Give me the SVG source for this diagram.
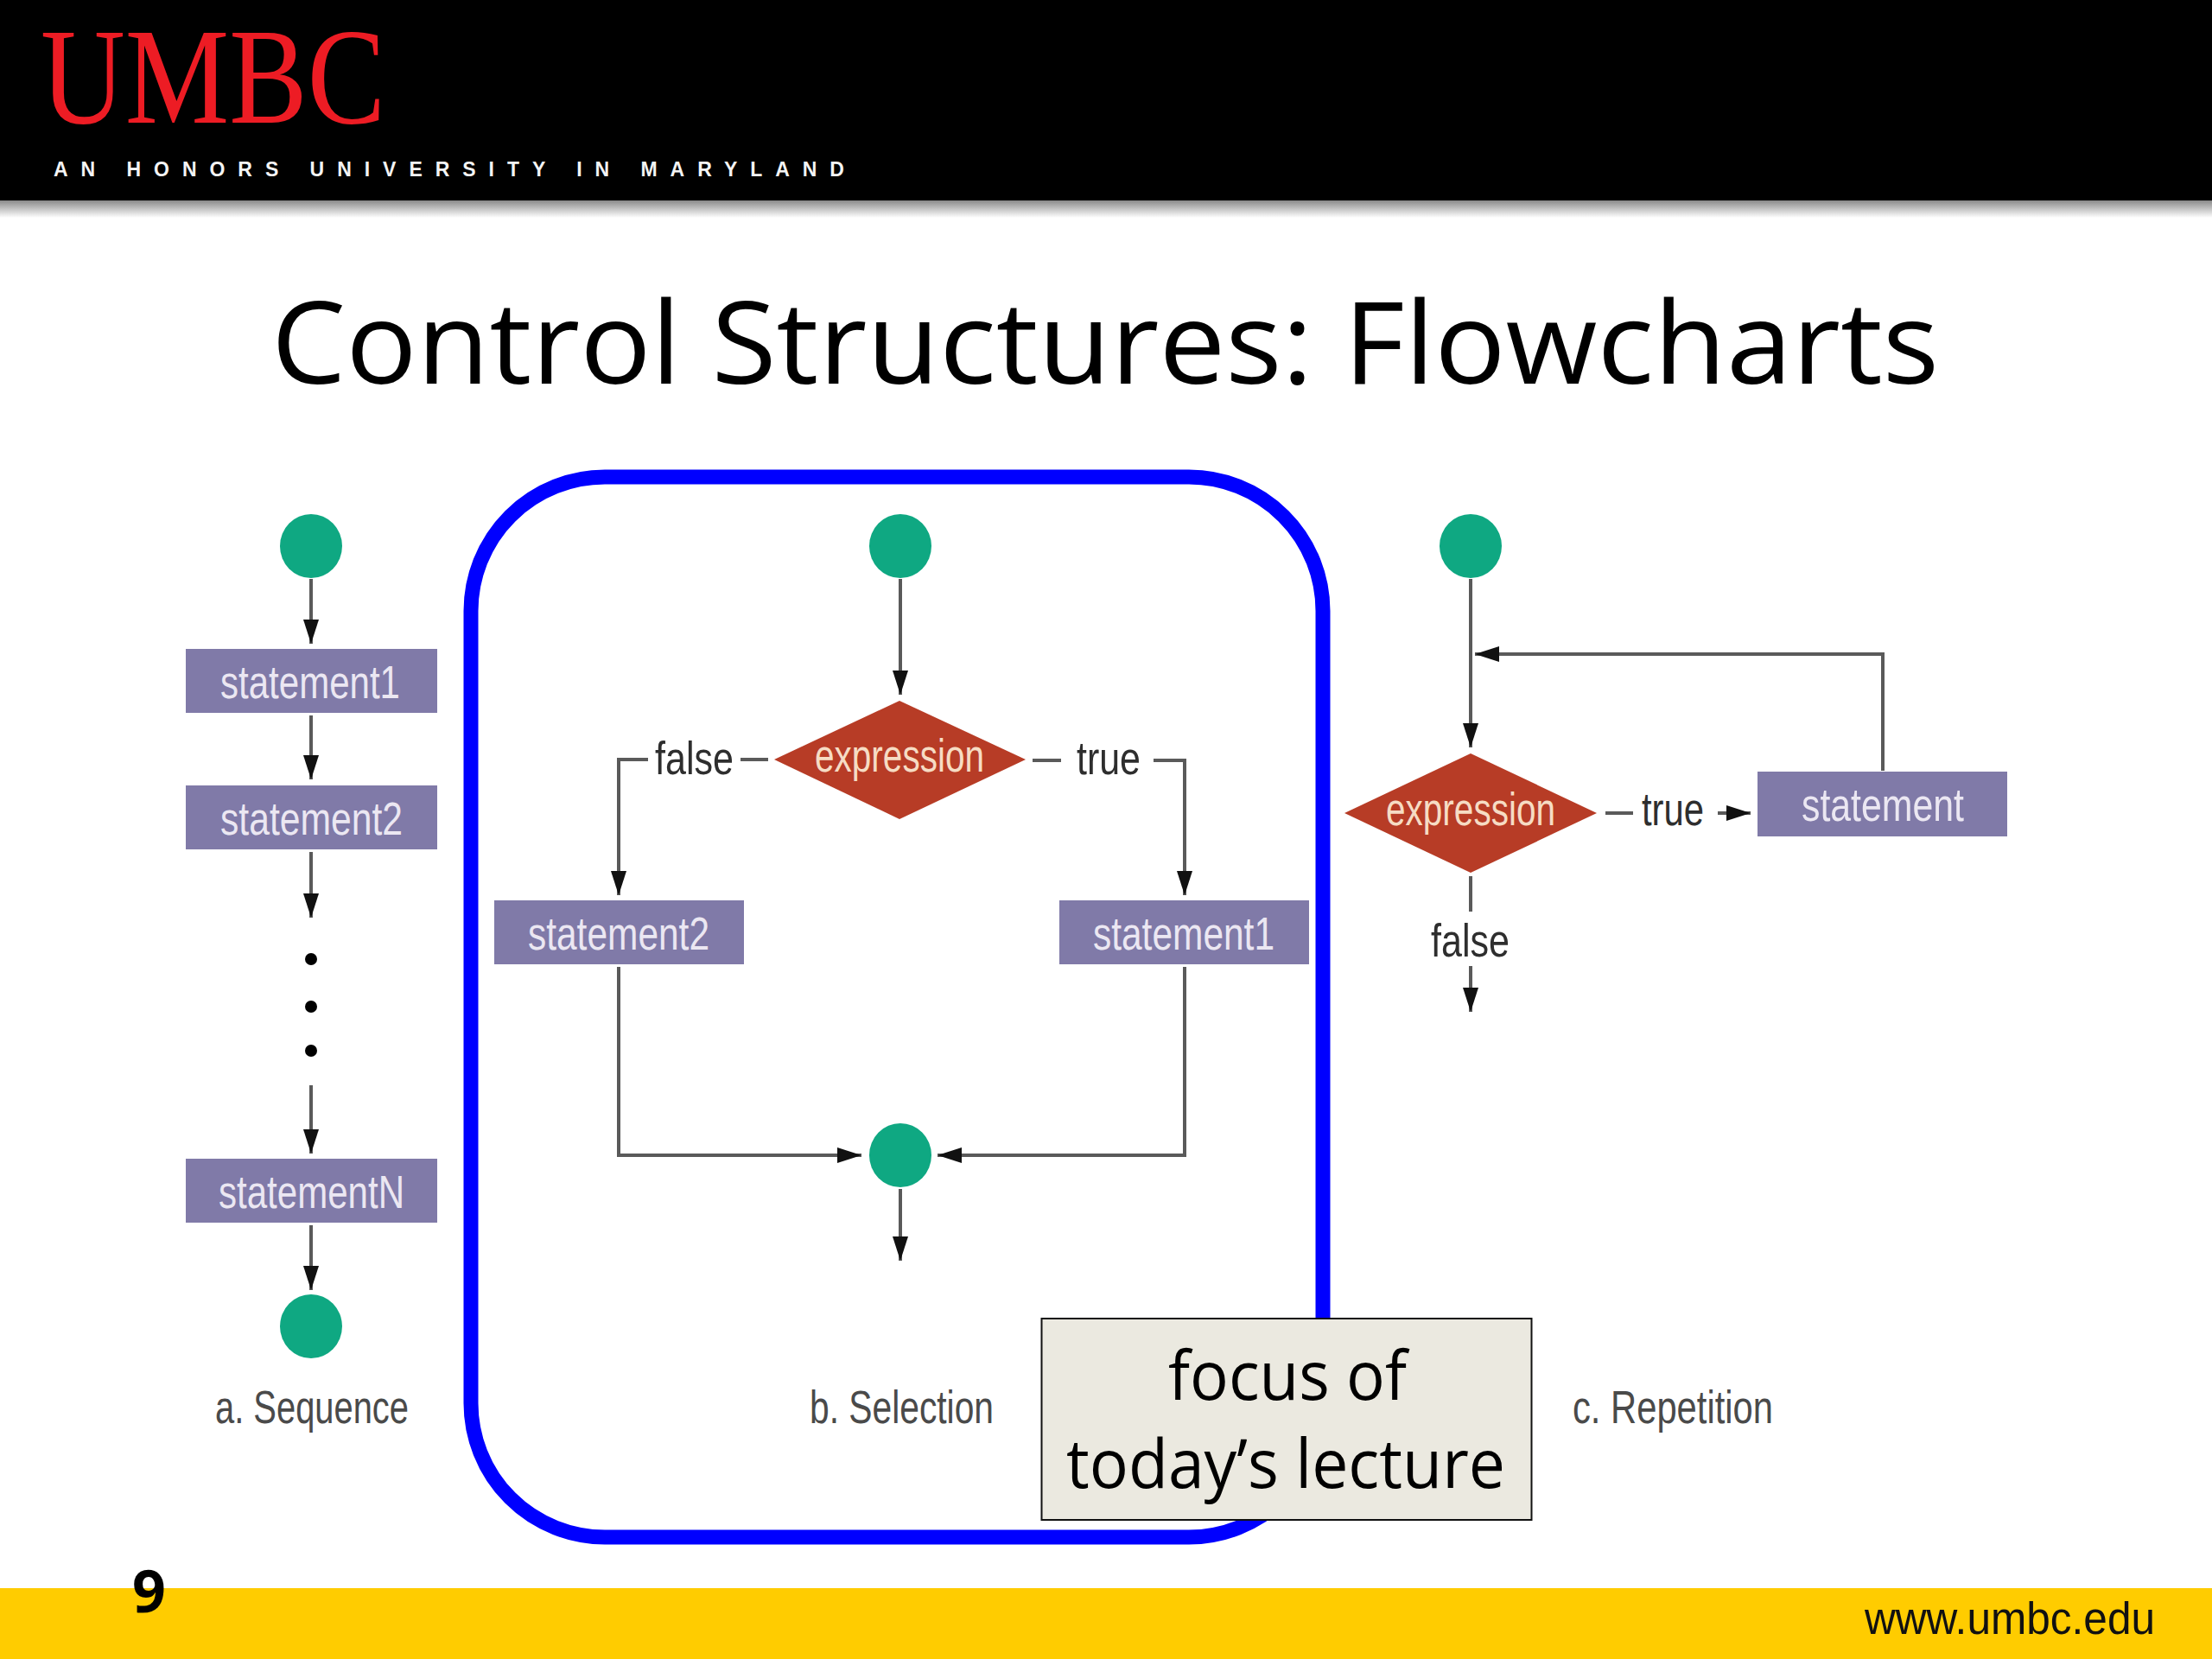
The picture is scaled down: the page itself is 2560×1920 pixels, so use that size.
<svg xmlns="http://www.w3.org/2000/svg" width="2560" height="1920" viewBox="0 0 2560 1920">
<style>
text{font-family:"Liberation Sans",Arial,sans-serif}
.s{fill:#807aa8}
.g{fill:#0fa882}
.d{fill:#b73c26}
.st{font-size:54px;fill:#ebe7f2;text-anchor:start}
.ex{font-size:54px;fill:#f6dcc4}
.lb{font-size:54px;fill:#2e2e2e}
.cap{font-size:54px;fill:#4a4a4a}
.c{fill:none;stroke:#5a5a5a;stroke-width:4}
.a{marker-end:url(#ah)}
.nt{font-family:"Open Sans","Noto Sans",sans-serif;fill:#000}
</style>
<defs>
<marker id="ah" markerUnits="userSpaceOnUse" markerWidth="30" markerHeight="20" refX="28" refY="10" orient="auto"><path d="M0,1 L28,10 L0,19 Z" fill="#111"/></marker>
<linearGradient id="sh" x1="0" y1="0" x2="0" y2="1"><stop offset="0" stop-color="#8a8a8a"/><stop offset="1" stop-color="#fff"/></linearGradient>
</defs>
<rect width="2560" height="1920" fill="#fff"/>
<g id="header">
<rect x="0" y="232" width="2560" height="20" fill="url(#sh)"/>
<rect width="2560" height="232" fill="#000"/>
<text x="47" y="142" font-size="158" textLength="399" lengthAdjust="spacingAndGlyphs" fill="#ed1c24" style="font-family:'Liberation Serif',serif">UMBC</text>
<text x="62" y="204" font-size="23" font-weight="700" textLength="915" lengthAdjust="spacing" fill="#f4f4f4">AN HONORS UNIVERSITY IN MARYLAND</text>
</g>
<rect id="footer" x="0" y="1838" width="2560" height="82" fill="#ffcc00"/>
<text id="title" class="nt" x="314" y="444" font-size="132" textLength="1930" lengthAdjust="spacingAndGlyphs">Control Structures: Flowcharts</text>
<g id="connectors">
<path class="c a" d="M360 670V745"/>
<path class="c a" d="M360 828V902"/>
<path class="c a" d="M360 986V1062"/>
<path class="c a" d="M360 1256V1335"/>
<path class="c a" d="M360 1418V1493"/>
<path class="c a" d="M1042 670V804"/>
<path class="c" d="M857 879H889"/>
<path class="c a" d="M750 879H716V1036"/>
<path class="c" d="M1195 880H1228"/>
<path class="c a" d="M1335 880H1371V1036"/>
<path class="c a" d="M716 1119V1337H997"/>
<path class="c a" d="M1371 1119V1337H1085"/>
<path class="c a" d="M1042 1376V1459"/>
<path class="c a" d="M1702 670V865"/>
<path class="c a" d="M2179 892V757H1707"/>
<path class="c" d="M1858 941H1890"/>
<path class="c a" d="M1988 941H2026"/>
<path class="c" d="M1702 1014V1055"/>
<path class="c a" d="M1702 1118V1171"/>
<circle cx="360" cy="1110" r="7" fill="#000"/>
<circle cx="360" cy="1165" r="7" fill="#000"/>
<circle cx="360" cy="1216" r="7" fill="#000"/>
<text class="lb" x="758" y="896" textLength="91" lengthAdjust="spacingAndGlyphs">false</text>
<text class="lb" x="1246" y="896" textLength="74" lengthAdjust="spacingAndGlyphs">true</text>
<text class="lb" x="1900" y="955" textLength="72" lengthAdjust="spacingAndGlyphs">true</text>
<text class="lb" x="1656" y="1107" textLength="91" lengthAdjust="spacingAndGlyphs">false</text>
</g>
<g id="seq-start"><ellipse class="g" cx="360" cy="632" rx="36" ry="37"/></g>
<g id="seq-statement1"><rect class="s" x="215" y="751" width="291" height="74"/><text class="st" x="255" y="808" textLength="208" lengthAdjust="spacingAndGlyphs">statement1</text></g>
<g id="seq-statement2"><rect class="s" x="215" y="909" width="291" height="74"/><text class="st" x="255" y="966" textLength="211" lengthAdjust="spacingAndGlyphs">statement2</text></g>
<g id="seq-statementN"><rect class="s" x="215" y="1341" width="291" height="74"/><text class="st" x="253" y="1398" textLength="215" lengthAdjust="spacingAndGlyphs">statementN</text></g>
<g id="seq-end"><ellipse class="g" cx="360" cy="1535" rx="36" ry="37"/></g>
<text id="cap-a" class="cap" x="249" y="1647" textLength="224" lengthAdjust="spacingAndGlyphs">a. Sequence</text>
<g id="sel-start"><ellipse class="g" cx="1042" cy="632" rx="36" ry="37"/></g>
<g id="sel-expression"><polygon class="d" points="1041,811 1187,879 1041,948 896,879"/><text class="ex" x="943" y="893" textLength="196" lengthAdjust="spacingAndGlyphs">expression</text></g>
<g id="sel-statement2"><rect class="s" x="572" y="1042" width="289" height="74"/><text class="st" x="611" y="1099" textLength="210" lengthAdjust="spacingAndGlyphs">statement2</text></g>
<g id="sel-statement1"><rect class="s" x="1226" y="1042" width="289" height="74"/><text class="st" x="1265" y="1099" textLength="210" lengthAdjust="spacingAndGlyphs">statement1</text></g>
<g id="sel-merge"><ellipse class="g" cx="1042" cy="1337" rx="36" ry="37"/></g>
<text id="cap-b" class="cap" x="937" y="1647" textLength="213" lengthAdjust="spacingAndGlyphs">b. Selection</text>
<g id="rep-start"><ellipse class="g" cx="1702" cy="632" rx="36" ry="37"/></g>
<g id="rep-expression"><polygon class="d" points="1702,872 1848,941 1702,1010 1556,941"/><text class="ex" x="1604" y="955" textLength="196" lengthAdjust="spacingAndGlyphs">expression</text></g>
<g id="rep-statement"><rect class="s" x="2034" y="893" width="289" height="75"/><text class="st" x="2085" y="950" textLength="188" lengthAdjust="spacingAndGlyphs">statement</text></g>
<text id="cap-c" class="cap" x="1820" y="1647" textLength="232" lengthAdjust="spacingAndGlyphs">c. Repetition</text>
<rect id="highlight" x="545" y="552" width="986" height="1227" rx="155" ry="155" fill="none" stroke="#0000ff" stroke-width="17"/>
<g id="callout">
<rect x="1205.500" y="1526" width="567" height="233" fill="#ebe9e0" stroke="#111" stroke-width="2"/>
<text class="nt" x="1352" y="1620" font-size="78" textLength="276" lengthAdjust="spacingAndGlyphs">focus of</text>
<text class="nt" x="1234" y="1722" font-size="78" textLength="508" lengthAdjust="spacingAndGlyphs">today’s lecture</text>
</g>
<text id="page" class="nt" x="153" y="1866" font-size="68" font-weight="700">9</text>
<text id="url" x="2158" y="1891" font-size="51" textLength="336" lengthAdjust="spacingAndGlyphs" fill="#111">www.umbc.edu</text>
</svg>
